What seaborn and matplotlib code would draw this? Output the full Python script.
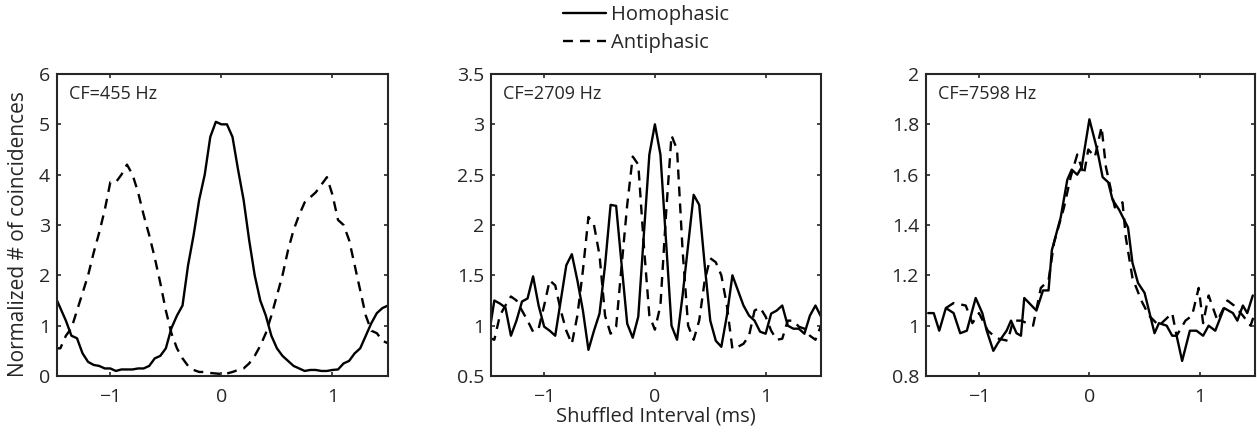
import numpy as np
import pandas as pd
import seaborn as sns
import matplotlib
matplotlib.use("Agg")
import matplotlib.pyplot as plt

# ---------------- data ----------------
lag_grid = np.round(np.arange(-1.5, 1.5001, 0.05), 2)

cf455_homo = [1.6, 1.35, 1.1, 0.8, 0.75, 0.45, 0.28, 0.22, 0.2, 0.15, 0.15,
              0.1, 0.13, 0.13, 0.13, 0.15, 0.15, 0.2, 0.35, 0.4, 0.55,
              0.95, 1.2, 1.4, 2.2, 2.8, 3.5, 4.0, 4.75, 5.05, 5.0,
              5.0, 4.75, 4.1, 3.5, 2.7, 2.0, 1.5, 1.2, 0.8, 0.55,
              0.4, 0.3, 0.2, 0.15, 0.1, 0.12, 0.12, 0.1, 0.1, 0.12,
              0.13, 0.25, 0.3, 0.45, 0.55, 0.8, 1.05, 1.25, 1.35, 1.4]
cf455_anti = [0.55, 0.55, 0.8, 0.95, 1.3, 1.65, 2.0, 2.45, 2.85, 3.3, 3.85,
              3.85, 4.0, 4.2, 4.0, 3.65, 3.2, 2.8, 2.35, 1.85, 1.3,
              0.85, 0.55, 0.35, 0.2, 0.12, 0.08, 0.08, 0.06, 0.05, 0.04,
              0.05, 0.08, 0.12, 0.15, 0.25, 0.4, 0.6, 0.85, 1.2, 1.6,
              2.0, 2.5, 2.9, 3.2, 3.45, 3.55, 3.65, 3.8, 3.95, 3.6,
              3.1, 3.0, 2.7, 2.2, 1.7, 1.2, 0.9, 0.85, 0.7, 0.65]

cf2709_homo = [0.9, 1.25, 1.22, 1.18, 0.9, 1.05, 1.24, 1.27, 1.49, 1.2, 0.99,
               0.95, 0.9, 1.25, 1.6, 1.71, 1.45, 1.15, 0.76, 0.95, 1.12,
               1.6, 2.2, 2.19, 1.6, 1.02, 0.88, 1.09, 1.9, 2.7, 3.0,
               2.7, 1.85, 1.0, 0.86, 1.3, 1.8, 2.3, 2.2, 1.6, 1.05,
               0.85, 0.79, 1.1, 1.5, 1.35, 1.2, 1.1, 1.05, 0.94, 0.92,
               1.12, 1.15, 1.2, 1.0, 0.97, 0.97, 0.92, 1.1, 1.2, 1.09]
cf2709_anti = [0.88, 0.86, 1.1, 1.2, 1.29, 1.25, 1.15, 1.05, 0.94, 0.97, 1.2,
               1.45, 1.4, 1.15, 0.95, 0.82, 1.1, 1.55, 2.08, 2.0, 1.7,
               1.1, 0.92, 0.99, 1.6, 2.2, 2.68, 2.6, 1.8, 1.1, 0.96,
               1.2, 2.1, 2.89, 2.75, 1.75, 1.0, 0.86, 1.05, 1.45, 1.67,
               1.63, 1.5, 1.2, 0.77, 0.79, 0.82, 0.9, 1.15, 1.18, 1.09,
               0.95, 0.86, 0.87, 1.05, 1.05, 0.99, 0.97, 0.9, 0.86, 1.0]

cf7598_homo_lag = [-1.46, -1.41, -1.36, -1.3, -1.23, -1.17, -1.11, -1.03, -0.97, -0.93,
                   -0.87, -0.83, -0.75, -0.71, -0.66, -0.62, -0.59, -0.48, -0.42, -0.37,
                   -0.34, -0.26, -0.2, -0.16, -0.11, -0.07, 0.0, 0.07, 0.12, 0.17,
                   0.21, 0.27, 0.35, 0.39, 0.44, 0.5, 0.59, 0.63, 0.7, 0.75,
                   0.79, 0.84, 0.91, 0.97, 1.03, 1.08, 1.14, 1.22, 1.3, 1.34,
                   1.39, 1.43, 1.48]
cf7598_homo = [1.05, 1.05, 0.98, 1.07, 1.05, 0.97, 0.98, 1.11, 1.05, 0.98,
               0.9, 0.93, 0.98, 1.02, 0.97, 0.96, 1.11, 1.06, 1.14, 1.14,
               1.3, 1.43, 1.58, 1.62, 1.6, 1.63, 1.82, 1.7, 1.59, 1.57,
               1.5, 1.46, 1.39, 1.25, 1.17, 1.13, 0.97, 1.01, 1.0, 0.96,
               0.96, 0.86, 0.98, 0.98, 0.96, 1.0, 0.98, 1.07, 1.05, 1.02,
               1.08, 1.05, 1.12]
cf7598_anti_lag = [-1.3, -1.23, -1.12, -1.06, -1.0, -0.92, -0.84, -0.74, -0.69, -0.62,
                   -0.51, -0.44, -0.37, -0.32, -0.23, -0.17, -0.11, -0.05, -0.01, 0.05,
                   0.11, 0.15, 0.23, 0.3, 0.33, 0.39, 0.47, 0.54, 0.63, 0.75,
                   0.79, 0.87, 0.93, 0.99, 1.03, 1.08, 1.16, 1.25, 1.31, 1.39,
                   1.46, 1.49]
cf7598_anti = [1.07, 1.09, 1.08, 1.01, 1.05, 0.98, 0.95, 0.94, 1.02, 1.02,
               1.0, 1.15, 1.18, 1.33, 1.47, 1.59, 1.68, 1.6, 1.7, 1.67,
               1.79, 1.63, 1.47, 1.49, 1.35, 1.19, 1.1, 1.04, 1.0, 1.05,
               0.96, 1.02, 1.04, 1.15, 1.01, 1.12, 1.02, 1.1, 1.08, 1.04,
               1.0, 1.04]

cf_labels = ["CF=455 Hz", "CF=2709 Hz", "CF=7598 Hz"]
ylims = [(0, 6), (0.5, 3.5), (0.8, 2.0)]
yticks = [[0, 1, 2, 3, 4, 5, 6],
          [0.5, 1, 1.5, 2, 2.5, 3, 3.5],
          [0.8, 1.0, 1.2, 1.4, 1.6, 1.8, 2.0]]
ytick_labels = [["0", "1", "2", "3", "4", "5", "6"],
                ["0.5", "1", "1.5", "2", "2.5", "3", "3.5"],
                ["0.8", "1", "1.2", "1.4", "1.6", "1.8", "2"]]
xticks = [-1, 0, 1]
xtick_labels = ["\u22121", "0", "1"]
series_names = ["Homophasic", "Antiphasic"]

panels = [
    ((lag_grid, cf455_homo), (lag_grid, cf455_anti)),
    ((lag_grid, cf2709_homo), (lag_grid, cf2709_anti)),
    ((cf7598_homo_lag, cf7598_homo), (cf7598_anti_lag, cf7598_anti)),
]

# ---------------- style ----------------
sns.set_style("ticks")
plt.rcParams["font.family"] = ["Open Sans", "DejaVu Sans"]
plt.rcParams["axes.linewidth"] = 1.5
plt.rcParams["xtick.direction"] = "in"
plt.rcParams["ytick.direction"] = "in"

FS = 14.5

fig = plt.figure(figsize=(12.57, 4.33), dpi=100)
lefts = [57 / 1257, 491 / 1257, 926 / 1257]
widths = [331 / 1257, 330 / 1257, 329 / 1257]
bottom = 57 / 433
height = 302 / 433

axes = []
for i, ((xh, yh), (xa, ya)) in enumerate(panels):
    ax = fig.add_axes([lefts[i], bottom, widths[i], height])
    df_h = pd.DataFrame({"lag": xh, "val": yh})
    df_a = pd.DataFrame({"lag": xa, "val": ya})
    sns.lineplot(data=df_h, x="lag", y="val", ax=ax, color="black",
                 linewidth=1.7, label=series_names[0], legend=False)
    sns.lineplot(data=df_a, x="lag", y="val", ax=ax, color="black",
                 linewidth=1.7, linestyle=(0, (4.2, 3.0)), label=series_names[1],
                 legend=False)
    ax.set_xlim(-1.48, 1.5)
    ax.set_ylim(*ylims[i])
    ax.set_xticks(xticks)
    ax.set_xticklabels(xtick_labels)
    ax.set_yticks(yticks[i])
    ax.set_yticklabels(ytick_labels[i])
    ax.tick_params(axis="both", which="both", top=True, right=True,
                   length=3, width=1.2, labelsize=FS - 0.5)
    ax.tick_params(axis="y", pad=5)
    ax.tick_params(axis="x", pad=9)
    for s in ax.spines.values():
        s.set_visible(True)
        s.set_linewidth(1.5)
    ax.set_xlabel("")
    ax.set_ylabel("")
    ax.text(0.035, 0.965, cf_labels[i], transform=ax.transAxes,
            ha="left", va="top", fontsize=13)
    axes.append(ax)

axes[0].set_ylabel("Normalized # of coincidences", fontsize=15)
axes[0].yaxis.set_label_coords(-0.085, 0.47)
axes[1].set_xlabel("Shuffled Interval (ms)", fontsize=FS, labelpad=0)

handles, labels = axes[0].get_legend_handles_labels()
fig.legend(handles, labels, loc="upper center", bbox_to_anchor=(0.514, 1.03),
           frameon=False, fontsize=FS, handlelength=2.1, handletextpad=0.25,
           labelspacing=0.4)

fig.savefig("out.png", dpi=100)
